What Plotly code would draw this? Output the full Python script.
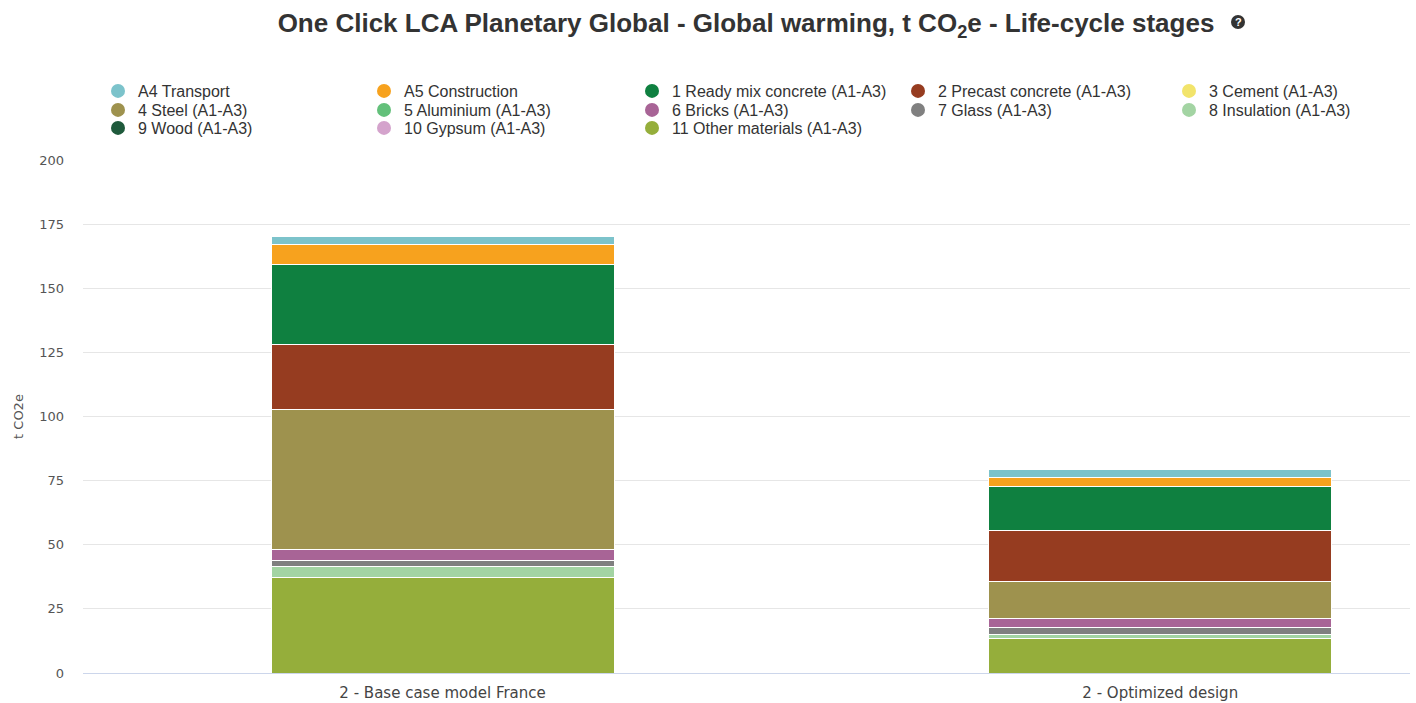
import plotly.graph_objects as go

categories = ["2 - Base case model France", "2 - Optimized design"]

series_names = [
    "A4 Transport", "A5 Construction", "1 Ready mix concrete (A1-A3)",
    "2 Precast concrete (A1-A3)", "3 Cement (A1-A3)", "4 Steel (A1-A3)",
    "5 Aluminium (A1-A3)", "6 Bricks (A1-A3)", "7 Glass (A1-A3)",
    "8 Insulation (A1-A3)", "9 Wood (A1-A3)", "10 Gypsum (A1-A3)",
    "11 Other materials (A1-A3)",
]
series_colors = [
    "#7cc3cb", "#f7a21e", "#0f8040", "#963c20", "#f2e46b", "#9e924e",
    "#63c07a", "#a86496", "#808080", "#a3d4a3", "#1f5a3c", "#d4a3cc", "#95ae3b",
]

a4_transport = [2.9, 3.1]
a5_construction = [7.8, 3.5]
ready_mix = [31.2, 17.5]
precast = [25.3, 19.6]
cement = [0, 0]
steel = [54.8, 14.6]
aluminium = [0, 0]
bricks = [4.0, 3.5]
glass = [2.3, 2.5]
insulation = [4.5, 1.9]
wood = [0, 0]
gypsum = [0, 0]
other_materials = [37.2, 13.3]

values = [a4_transport, a5_construction, ready_mix, precast, cement, steel,
          aluminium, bricks, glass, insulation, wood, gypsum, other_materials]

y_ticks = [0, 25, 50, 75, 100, 125, 150, 175, 200]

W, H = 1416, 703
ML, MR, MT, MB = 83, 6, 160, 30

fig = go.Figure()

# stacked bars: last series at bottom
for name, color, vals in reversed(list(zip(series_names, series_colors, values))):
    fig.add_trace(go.Bar(
        x=categories, y=vals, name=name, showlegend=False,
        marker=dict(color=color, line=dict(color="white", width=1)),
        width=0.478,
    ))

# legend: one small legend per entry, laid out 5 per row
col_marker_x = [117, 383, 651, 917, 1188]
row_center_y = [91, 110, 128]
legend_font = dict(family="Liberation Sans, Arial", size=16, color="#333333")
legend_layouts = {}
for i, (name, color) in enumerate(zip(series_names, series_colors)):
    lid = "legend" if i == 0 else f"legend{i + 1}"
    fig.add_trace(go.Scatter(
        x=[None], y=[None], mode="markers", name=name,
        marker=dict(color=color, size=14, symbol="circle"),
        legend=lid,
    ))
    legend_layouts[lid] = dict(
        orientation="h", xref="container", yref="container",
        x=(col_marker_x[i % 5] - 19) / W, xanchor="left",
        y=1 - row_center_y[i // 5] / H, yanchor="middle",
        font=legend_font, bgcolor="rgba(0,0,0,0)",
    )

title_text = "One Click LCA Planetary Global - Global warming, t CO<sub>2</sub>e - Life-cycle stages"

fig.update_layout(
    width=W, height=H,
    paper_bgcolor="white", plot_bgcolor="white",
    margin=dict(l=ML, r=MR, t=MT, b=MB, autoexpand=False),
    barmode="stack",
    title=dict(
        text=title_text,
        x=746 / W, xanchor="center", xref="container",
        y=1 - 23 / H, yanchor="middle", yref="container",
        font=dict(family="Liberation Sans, Arial", size=26, color="#333333", weight="bold"),
    ),
    xaxis=dict(
        type="category",
        range=[-0.501, 1.348],
        showgrid=False, automargin=False,
        showline=True, linecolor="#ccd6eb", linewidth=1,
        ticks="", zeroline=False,
        ticklabelstandoff=6,
        tickfont=dict(family="DejaVu Sans", size=15, color="#444444"),
    ),
    yaxis=dict(
        range=[0, 200],
        tickvals=y_ticks, automargin=False,
        showgrid=True, gridcolor="#e6e6e6", gridwidth=1,
        zeroline=False, showline=False, ticks="",
        ticklabelstandoff=18,
        tickfont=dict(family="DejaVu Sans", size=13, color="#555555"),
        title=dict(text="t CO2e", font=dict(family="DejaVu Sans", size=13, color="#555555"), standoff=12),
    ),
    hovermode=False,
    **legend_layouts,
)

# help icon next to title
px_w = W - ML - MR
px_h = H - MT - MB
icx = (1238 - ML) / px_w
icy = (H - MB - 22) / px_h
r = 7
fig.add_shape(
    type="circle", xref="paper", yref="paper",
    x0=icx - r / px_w, x1=icx + r / px_w, y0=icy - r / px_h, y1=icy + r / px_h,
    fillcolor="#333333", line=dict(color="#333333", width=0),
)
fig.add_annotation(
    xref="paper", yref="paper", x=icx, y=icy, text="<b>?</b>", showarrow=False,
    font=dict(family="Liberation Sans", size=11, color="white"), xanchor="center", yanchor="middle",
)

fig.write_html("out.html", config={"displayModeBar": False},
               post_script="document.body.style.margin='0';")
